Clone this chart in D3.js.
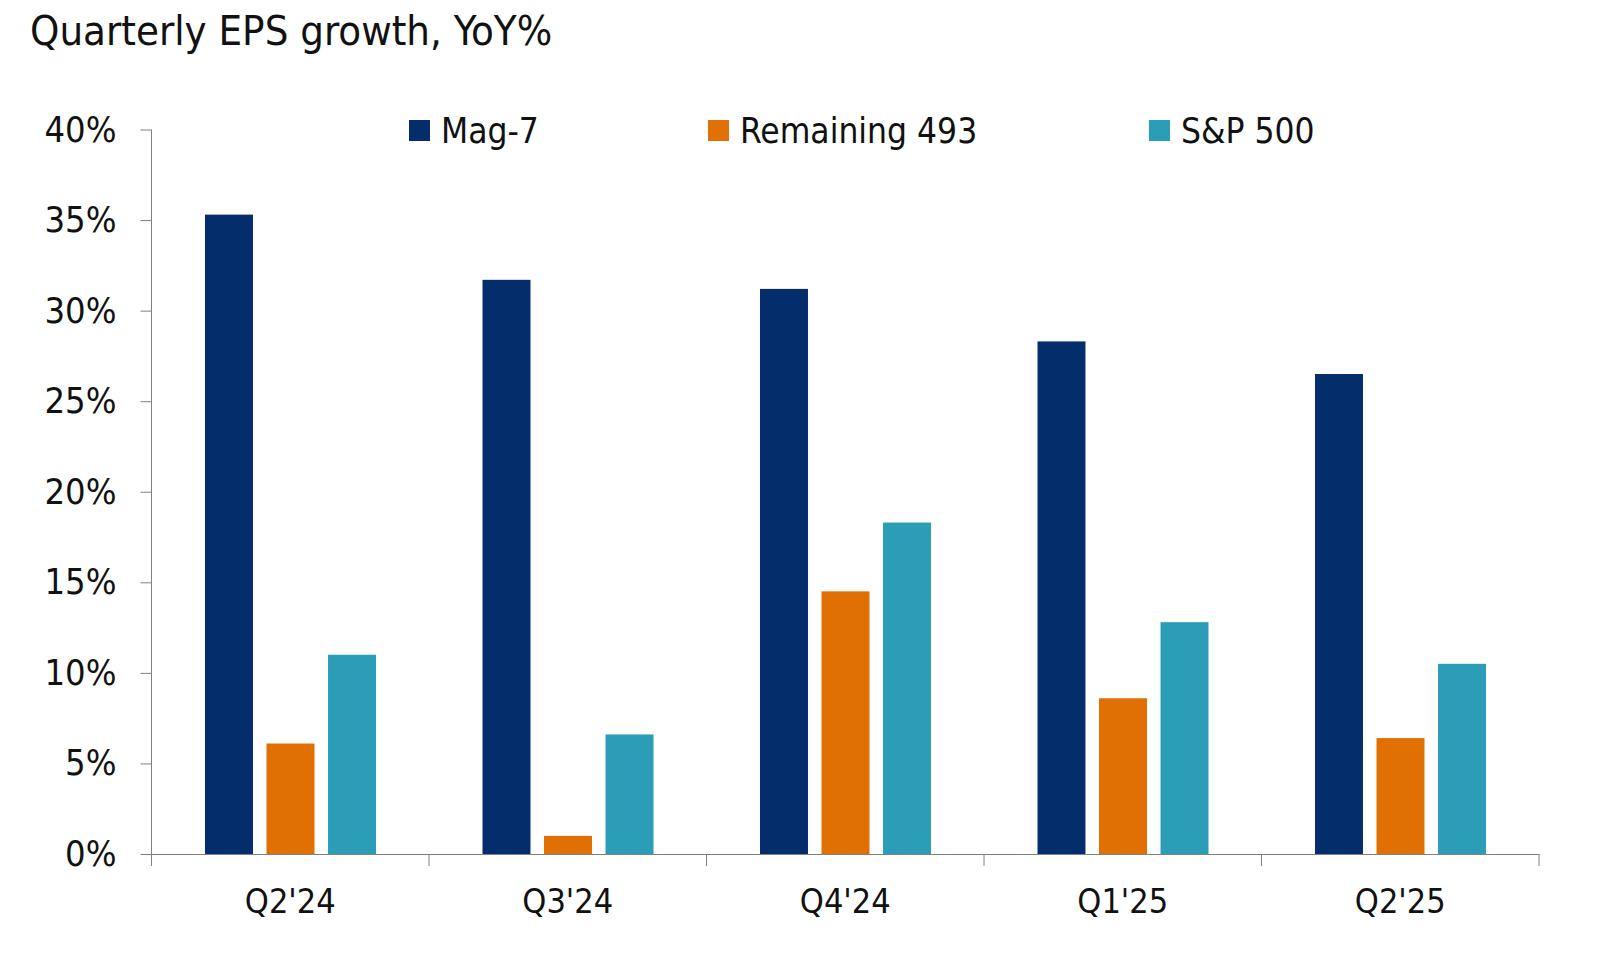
<!DOCTYPE html>
<html><head><meta charset="utf-8">
<script src="https://cdn.jsdelivr.net/npm/d3@7"></script>
<style>
body{margin:0;background:#fff;}
text{font-family:"DejaVu Sans Condensed","Liberation Sans Narrow",sans-serif;font-stretch:condensed;fill:#111;}
</style></head><body>
<svg id="chart" width="1600" height="955"></svg>
<script>
const categories = ["Q2'24","Q3'24","Q4'24","Q1'25","Q2'25"];
const seriesNames = ["Mag-7","Remaining 493","S&P 500"];
const mag7 = [35.3, 31.7, 31.2, 28.3, 26.5];
const remaining493 = [6.1, 1.0, 14.5, 8.6, 6.4];
const sp500 = [11.0, 6.6, 18.3, 12.8, 10.5];
const yTicks = [0,5,10,15,20,25,30,35,40];
const colors = ["#032e6b","#e06f04","#2c9db6"];
const seriesValues = [mag7, remaining493, sp500];

(function(){
const svg = d3.select("#chart");
const pl = 151.5, pr = 1539, pt = 129.5, pb = 854;
const x = d3.scaleBand().domain(categories).range([pl, pr]).padding(0);
const y = d3.scaleLinear().domain([0,40]).range([pb, pt]);
const inner = d3.scaleBand().domain(seriesNames).range([53.5, 224.5]).paddingInner(0.22);

svg.append("text").attr("x",30).attr("y",45).attr("font-size",41.5).text("Quarterly EPS growth, YoY%");

categories.forEach((c,i)=>{
  seriesNames.forEach((s,j)=>{
    const v = seriesValues[j][i];
    svg.append("rect")
      .attr("x", x(c)+inner(s))
      .attr("width", inner.bandwidth())
      .attr("y", y(v))
      .attr("height", y(0)-y(v))
      .attr("fill", colors[j]);
  });
});

const yAxis = d3.axisLeft(y).tickValues(yTicks).tickFormat(d=>d+"%").tickSize(11).tickPadding(24);
const gy = svg.append("g").attr("transform",`translate(${pl},0)`).call(yAxis);
gy.select(".domain").attr("stroke","#808080").attr("d",`M0,${pt}V${pb}`);
gy.selectAll(".tick line").attr("stroke","#808080");
gy.selectAll(".tick text").attr("font-size",36).attr("fill","#111").attr("font-family",null);

const xAxis = d3.axisBottom(x).tickSize(0).tickPadding(35);
const gx = svg.append("g").attr("transform",`translate(0,${pb})`).call(xAxis);
gx.select(".domain").attr("stroke","#808080");
gx.selectAll(".tick text").attr("font-size",34).attr("fill","#111").attr("font-family",null);
const bounds = categories.map(c=>x(c)).concat([pr]);
gx.selectAll(".sep").data(bounds).enter().append("line")
  .attr("x1",d=>d).attr("x2",d=>d).attr("y1",0).attr("y2",12).attr("stroke","#808080");

const legX = [409, 708, 1149];
seriesNames.forEach((s,j)=>{
  svg.append("rect").attr("x",legX[j]).attr("y",120).attr("width",21).attr("height",21).attr("fill",colors[j]);
  svg.append("text").attr("x",legX[j]+32).attr("y",143).attr("font-size",35).text(s);
});
})();
</script>
</body></html>
